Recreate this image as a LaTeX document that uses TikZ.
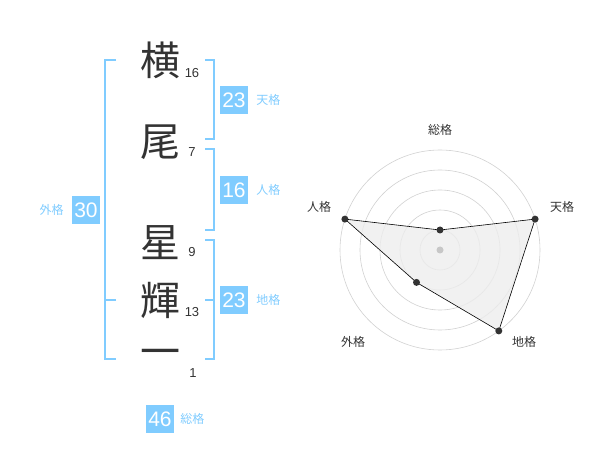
\documentclass[tikz,border=0pt]{standalone}
\usepackage{fontspec}
\setmainfont{Liberation Sans}
\newfontfamily\jpfont{Noto Sans CJK JP}
\usepackage{tikz}
\usetikzlibrary{positioning}
\definecolor{kaku}{HTML}{80CCFF}
\definecolor{moji}{HTML}{333333}
\tikzset{
  kanji/.style={text=moji, font=\jpfont\fontsize{40}{40}\selectfont, inner sep=0pt},
  kakusu/.style={text=moji, font=\fontsize{13}{13}\selectfont, inner sep=0pt},
  numbox/.style={fill=kaku, text=white, minimum size=28pt, inner sep=0pt, font=\fontsize{21}{21}\selectfont},
  kakuname/.style={text=kaku, font=\jpfont\fontsize{12}{12}\selectfont, inner sep=0pt},
  bracket/.style={draw=kaku, line width=1.8pt},
  ring/.style={draw=black!18, line width=0.6pt},
  axisname/.style={text=moji, font=\jpfont\fontsize{12}{12}\selectfont, inner sep=0pt},
  dot/.style={circle, fill=moji, inner sep=0pt, minimum size=7pt}
}

\begin{document}
\begin{tikzpicture}[x=1pt, y=-1pt]
\useasboundingbox (0,0) rectangle (600,470);
% name
\node[kanji] (c1) at (160,60)  {横};
\node[kanji] (c2) at (160,142) {尾};
\node[kanji] (c3) at (160,243) {星};
\node[kanji] (c4) at (160,300) {輝};
\node[kanji] (c5) at (160,358) {一};
\node[kakusu] (n1) at (192,73)  {16};
\node[kakusu] (n2) at (192,152) {7};
\node[kakusu] (n3) at (192,252) {9};
\node[kakusu] (n4) at (192,312) {13};
\node[kakusu] (n5) at (193,373) {1};
% brackets
\draw[bracket] (116,60) -| (105,359) -- (116,359);
\draw[bracket] (116,300) -- (105,300);
\draw[bracket] (205,60) -| (214,139) -- (205,139);
\draw[bracket] (205,149) -| (214,230) -- (205,230);
\draw[bracket] (205,240) -| (214,359) -- (205,359);
\draw[bracket] (205,300) -- (214,300);
% boxes
\node[numbox] (ten) at (234,100) {23};
\node[kakuname, right=8pt of ten] (tenl) {天格};
\node[numbox] (jin) at (234,190) {16};
\node[kakuname, right=8pt of jin] (jinl) {人格};
\node[numbox] (chi) at (234,300) {23};
\node[kakuname, right=8pt of chi] (chil) {地格};
\node[numbox] (gai) at (86,210) {30};
\node[kakuname, left=8pt of gai] (gail) {外格};
\node[numbox] (sou) at (160,419) {46};
\node[kakuname, right=6pt of sou] (soul) {総格};
% radar
\coordinate (o) at (440,250);
\foreach \r in {20,40,60,80,100}
{
  \draw[ring] (o) circle[radius=\r];
}
\coordinate (p1) at (440,230);
\coordinate (p2) at (535.1,219.1);
\coordinate (p3) at (498.8,330.9);
\coordinate (p4) at (416.5,282.4);
\coordinate (p5) at (344.9,219.1);
\draw[fill=black!7, fill opacity=0.8, draw=black, line width=0.6pt] (p1) -- (p2) -- (p3) -- (p4) -- (p5) -- cycle;
\fill[black!22] (o) circle[radius=3.5];
\foreach \p in {p1,p2,p3,p4,p5}
{
  \node[dot] at (\p) {};
}
\node[axisname] (a1) at (440,130) {総格};
\node[axisname] (a2) at (562,207) {天格};
\node[axisname] (a3) at (524,342) {地格};
\node[axisname] (a4) at (353,342) {外格};
\node[axisname] (a5) at (319,207) {人格};
\end{tikzpicture}
\end{document}
